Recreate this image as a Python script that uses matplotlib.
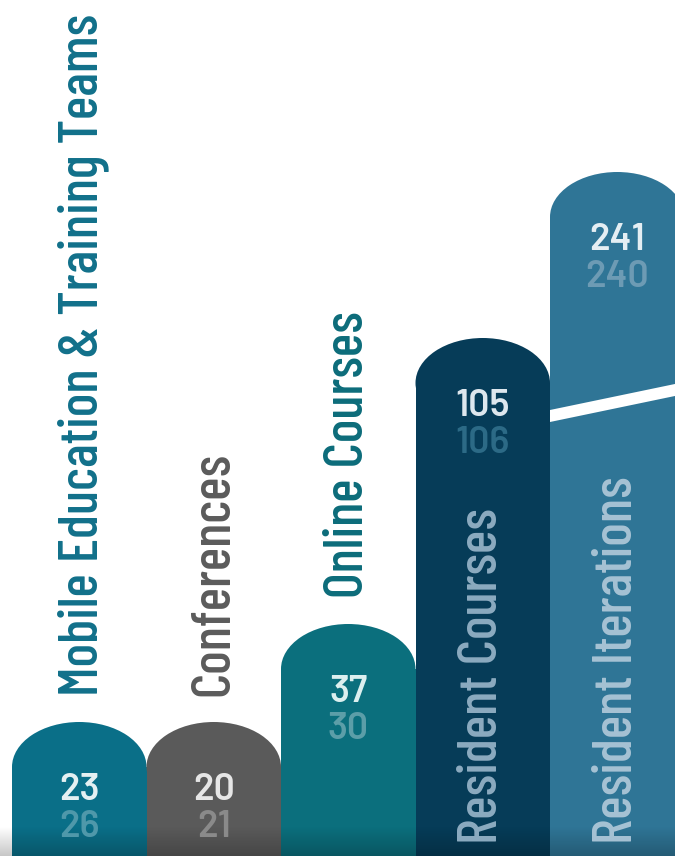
import numpy as np
import matplotlib
matplotlib.use("Agg")
import matplotlib.pyplot as plt
from matplotlib import font_manager
from matplotlib.patches import Ellipse, Polygon

# Datos de la infografía
categorias = ["Mobile Education & Training Teams", "Conferences", "Online Courses",
              "Resident Courses", "Resident Iterations"]
actual = [23, 20, 37, 105, 241]
anterior = [26, 21, 30, 106, 240]
alturas = [134, 134, 232, 518, 684]  # altura dibujada de cada barra (no proporcional)

# Colores
col_barra = ["#0a6f88", "#5a5a5a", "#0b6f7d", "#063c58", "#2f7596"]
col_etiqueta = ["#11708a", "#5b5b5b", "#0c6c7a", "#8cabc0", "#a6c2d4"]
col_num1 = ["#e4f0f2", "#e6e6e6", "#dcefef", "#dde7ee", "#e4eef3"]
col_num2 = ["#4f98aa", "#8a8a8a", "#5c9ea8", "#2c6a86", "#6d9bb4"]

# Fuente estrecha tipo DIN si existe
nombres = {f.name for f in font_manager.fontManager.ttflist}
fuente = "DejaVu Sans"
for cand in ["Barlow Condensed", "Barlow Semi Condensed", "Roboto Condensed"]:
    if cand in nombres:
        fuente = cand
        break
fuente_num = "Barlow" if "Barlow" in nombres else "Roboto"

fig = plt.figure(figsize=(6.75, 8.59), dpi=100)
ax = fig.add_axes([0, 0, 1, 1])
ax.set_xlim(-0.5 - 12 / 134.5, -0.5 + 663 / 134.5)
ax.set_ylim(-3, 856)
ax.axis("off")

x = np.arange(len(categorias))
cap = 45  # semieje vertical de la tapa redondeada

for i in x:
    h = alturas[i]
    ax.bar(i, h - cap, width=1.0, color=col_barra[i], linewidth=0)
    ax.add_patch(Ellipse((i, h - cap), 1.0, 2 * cap, color=col_barra[i], linewidth=0))

# franja blanca diagonal en la última barra
ax.add_patch(Polygon([[3.5, 434], [4.5, 462], [4.5, 474], [3.5, 446]],
                     closed=True, color="white", linewidth=0))

# sombra inferior
grad = np.zeros((30, 2, 4))
grad[..., 3] = np.linspace(0.22, 0, 30)[:, None]
ax.imshow(grad, extent=(ax.get_xlim()[0], ax.get_xlim()[1], 0, 30), origin="lower",
          aspect="auto", zorder=3, interpolation="bilinear")

# números
for i in x:
    h = alturas[i]
    ax.text(i, h - 78, str(actual[i]), ha="center", va="baseline", fontsize=27,
            family=fuente_num, fontweight=600, color=col_num1[i], zorder=4)
    ax.text(i, h - 115, str(anterior[i]), ha="center", va="baseline", fontsize=27,
            family=fuente_num, fontweight=600, color=col_num2[i], zorder=4)

# etiquetas verticales
rend = fig.canvas.get_renderer()
prueba = ax.text(0, 0, categorias[0], rotation=90, fontsize=40, family=fuente, fontweight=500)
largo = prueba.get_window_extent(rend).height
prueba.remove()
tam = 40 * 683 / largo

for i in x:
    y0 = alturas[i] + 26 if i < 3 else 12
    ax.text(i + (0.03 if i == 0 else 0), y0, categorias[i], rotation=90, ha="center", va="bottom",
            fontsize=tam, family=fuente, fontweight=500, color=col_etiqueta[i], zorder=4)

fig.savefig("out.png", dpi=100)
